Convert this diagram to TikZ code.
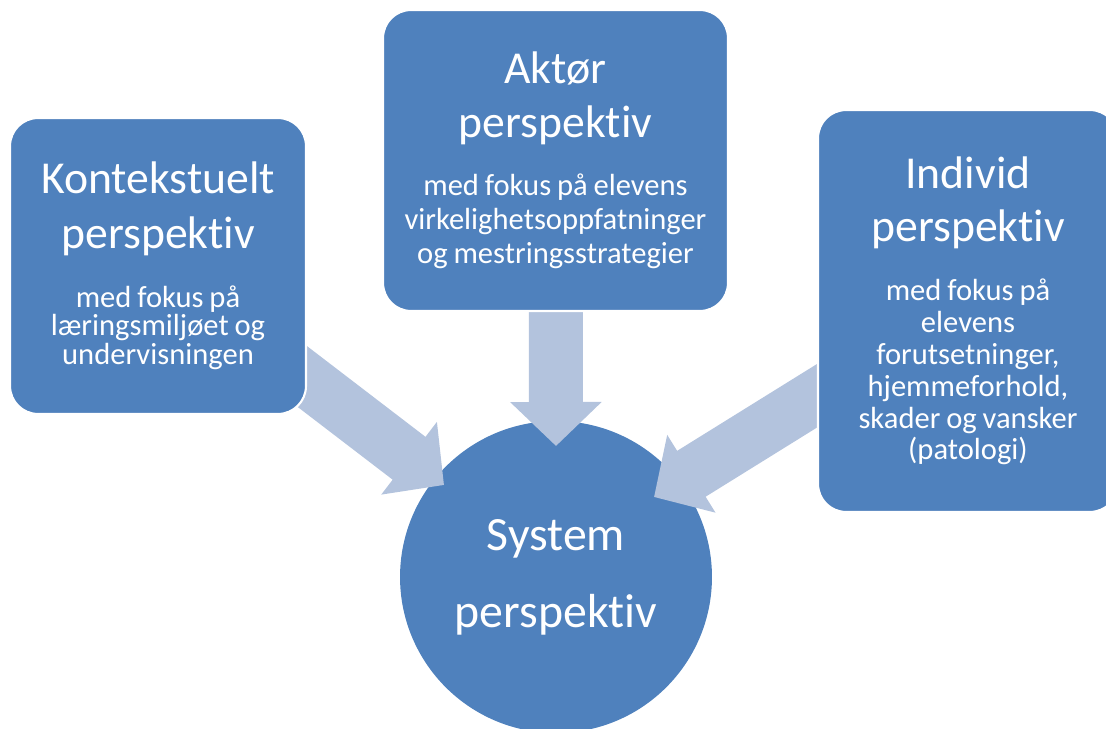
\documentclass[tikz,border=0pt]{standalone}
\usepackage{fontspec}
\setmainfont{Carlito}[Ligatures={NoCommon}]
\usepackage{tikz}
\usetikzlibrary{arrows.meta,positioning}

\definecolor{boxblue}{HTML}{4F81BD}
\definecolor{arrowblue}{HTML}{B3C3DD}

\pgfdeclarelayer{bottom}
\pgfdeclarelayer{middle}
\pgfsetlayers{bottom,middle,main}

\begin{document}
\begin{tikzpicture}[x=0.02cm, y=-0.02cm]
		\tikzstyle{box}=[rectangle, rounded corners=0.56cm, fill=boxblue, draw=white, line width=1.2pt, text=white, align=center, inner sep=0pt, outer sep=0pt]
		\tikzstyle{pil}=[draw=arrowblue, line width=1.08cm, -{Triangle[width=1.78cm, length=0.88cm]}]
		
		\useasboundingbox (0,0) rectangle (1106,729);
		
		% System
		\begin{pgfonlayer}{bottom}
		\node[circle, fill=boxblue, text=white, align=center, text width=5cm, minimum size=6.24cm, inner sep=0pt,
		font={\fontsize{27.2}{43.7}\selectfont}] (sys) at (556,577)
		{System\\perspektiv};
		\end{pgfonlayer}
		
		% Kontekstuelt
		\node[box, minimum width=5.92cm, minimum height=5.92cm, text width=5.92cm] (box_k) at (158,266)
		{{\fontsize{26}{31.2}\selectfont Kontekstuelt\\perspektiv\par}\vspace{15.9pt}
		{\fontsize{17.4}{16.4}\selectfont med fokus på\\læringsmiljøet og\\undervisningen\par}};
		
		% Aktor
		\node[box, minimum width=6.9cm, minimum height=6.02cm, text width=6.9cm] (box_a) at (555.5,160.5)
		{{\fontsize{26}{30.6}\selectfont Aktør\\perspektiv\par}\vspace{13.3pt}
		{\fontsize{17.4}{19.6}\selectfont med fokus på elevens\\virkelighetsoppfatninger\\og mestringsstrategier\par}};
		
		% Individ
		\node[box, minimum width=6cm, minimum height=8.04cm, text width=6cm] (box_i) at (968,311)
		{{\fontsize{26}{30}\selectfont Individ\\perspektiv\par}\vspace{15.9pt}
		{\fontsize{17.4}{18.1}\selectfont med fokus på\\elevens\\forutsetninger,\\hjemmeforhold,\\skader og vansker\\(patologi)\par}};
		
		% Arrows
		\coordinate (tip_k) at (444,485);
		\coordinate (tip_a) at (556,446);
		\coordinate (tip_i) at (654,497);
		\begin{pgfonlayer}{middle}
		\draw [pil] (box_k.center) -- (tip_k);
		\draw [pil] (box_a.center) -- (tip_a);
		\draw [pil] ([yshift=0.18cm]box_i.center) -- (tip_i);
		\end{pgfonlayer}
		
\end{tikzpicture}
\end{document}
